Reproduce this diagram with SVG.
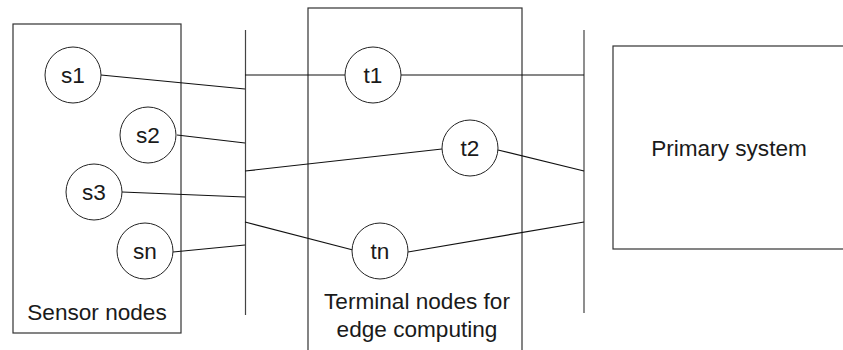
<svg xmlns="http://www.w3.org/2000/svg" width="843" height="350" viewBox="0 0 843 350">
  <style>
    .box { fill: none; stroke: #333; stroke-width: 1.2; }
    .node { fill: #fff; stroke: #222; stroke-width: 1; }
    .bus { stroke: #444; stroke-width: 1.2; }
    .link { stroke: #111; stroke-width: 1.2; fill: none; }
    text { font-family: "Liberation Sans", Arial, sans-serif; font-size: 22.6px; fill: #1a1a1a; text-anchor: middle; }
  </style>
  <rect width="843" height="350" fill="#fff"/>

  <!-- containers -->
  <g id="sensor-group">
    <rect class="box" x="13" y="24" width="168" height="309"/>
    <text x="97" y="320">Sensor nodes</text>
  </g>
  <g id="terminal-group">
    <rect class="box" x="308" y="8" width="214" height="350"/>
    <text x="417" y="309">Terminal nodes for</text>
    <text x="417" y="337">edge computing</text>
  </g>
  <g id="primary-system">
    <rect class="box" x="613" y="46" width="240" height="203"/>
    <text x="729" y="156">Primary system</text>
  </g>

  <!-- buses and links -->
  <g id="connectors">
    <line class="bus" x1="245.5" y1="30" x2="245.5" y2="315"/>
    <line class="bus" x1="584" y1="30" x2="584" y2="313"/>
    <line class="link" x1="101" y1="75" x2="245" y2="89"/>
    <line class="link" x1="177" y1="135" x2="245" y2="143"/>
    <line class="link" x1="122" y1="192" x2="245" y2="197"/>
    <line class="link" x1="173" y1="252" x2="245" y2="245"/>
    <line class="link" x1="245" y1="75" x2="345" y2="75"/>
    <line class="link" x1="401" y1="75" x2="584" y2="75"/>
    <line class="link" x1="245" y1="171" x2="442" y2="149"/>
    <line class="link" x1="498" y1="150" x2="584" y2="171"/>
    <line class="link" x1="245" y1="222" x2="353" y2="250"/>
    <line class="link" x1="408" y1="252" x2="584" y2="222"/>
  </g>

  <!-- nodes -->
  <g id="s1"><circle class="node" cx="73" cy="75" r="28"/><text x="73" y="83">s1</text></g>
  <g id="s2"><circle class="node" cx="148" cy="135" r="28"/><text x="148" y="143">s2</text></g>
  <g id="s3"><circle class="node" cx="94" cy="192" r="28"/><text x="94" y="200">s3</text></g>
  <g id="sn"><circle class="node" cx="145" cy="251" r="28"/><text x="145" y="259">sn</text></g>
  <g id="t1"><circle class="node" cx="373" cy="75" r="28"/><text x="373" y="83">t1</text></g>
  <g id="t2"><circle class="node" cx="470" cy="148" r="28"/><text x="470" y="156">t2</text></g>
  <g id="tn"><circle class="node" cx="380" cy="251" r="28"/><text x="380" y="259">tn</text></g>
</svg>
